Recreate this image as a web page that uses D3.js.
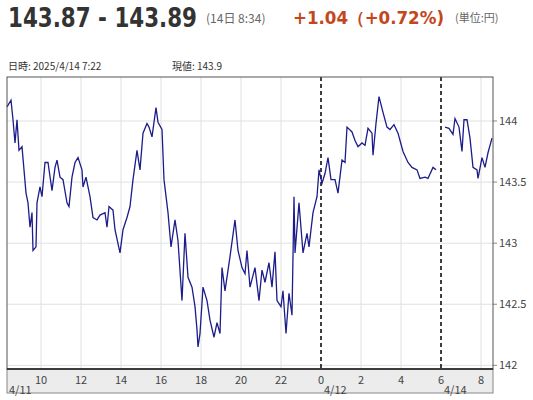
<!DOCTYPE html>
<html><head><meta charset="utf-8">
<script src="https://cdn.jsdelivr.net/npm/d3@7"></script>
<style>
body{margin:0;background:#fff;font-family:"Noto Sans CJK JP","Noto Sans",sans-serif;}
</style></head>
<body><svg id="c" width="533" height="400"></svg>
<script>
// 軸の時間 (4/11 0:00 からの時間, 4/14 は 6時 = 30 に詰める)
var hours = [8.30,8.50,8.60,8.70,8.80,8.90,9.05,9.15,9.25,9.35,9.45,9.55,9.60,9.75,9.80,9.95,10.05,10.20,10.35,10.55,10.70,10.80,10.95,11.10,11.30,11.40,11.55,11.70,11.85,12.05,12.10,12.25,12.45,12.60,12.80,12.95,13.20,13.30,13.40,13.60,13.70,13.95,14.10,14.30,14.45,14.60,14.80,14.95,15.10,15.30,15.40,15.55,15.75,15.85,16.05,16.15,16.35,16.50,16.70,16.85,17.05,17.20,17.35,17.55,17.70,17.80,17.85,17.95,18.10,18.30,18.45,18.65,18.80,18.95,19.05,19.20,19.45,19.70,19.85,20.05,20.20,20.30,20.45,20.70,20.90,21.05,21.20,21.40,21.55,21.70,21.80,22.00,22.10,22.25,22.40,22.55,22.65,22.70,22.90,23.10,23.30,23.40,23.60,23.80,23.90,24.05,24.20,24.35,24.50,24.70,24.85,25.05,25.20,25.30,25.55,25.70,25.85,26.05,26.20,26.35,26.55,26.60,26.75,26.90,27.10,27.30,27.45,27.65,27.85,27.95,28.10,28.35,28.55,28.80,28.95,29.20,29.35,29.60,29.75,29.9,
  30.20,30.40,30.60,30.70,30.90,31.05,31.15,31.30,31.45,31.60,31.80,31.85,32.05,32.20,32.35,32.55];
var prices = [144.115,144.17,144.01,143.82,144.01,143.76,143.79,143.60,143.41,143.33,143.13,143.25,142.94,142.97,143.33,143.46,143.38,143.66,143.66,143.43,143.62,143.68,143.54,143.52,143.33,143.30,143.54,143.66,143.70,143.60,143.46,143.54,143.38,143.21,143.19,143.23,143.25,143.13,143.30,143.27,143.11,142.92,143.11,143.21,143.30,143.52,143.76,143.60,143.90,143.98,143.95,143.87,144.11,143.99,143.93,143.52,143.25,142.97,143.19,143.02,142.53,143.08,142.72,142.64,142.48,142.29,142.15,142.26,142.64,142.53,142.37,142.23,142.35,142.26,142.80,142.61,142.89,143.19,142.94,142.80,142.75,142.94,142.64,142.80,142.53,142.78,142.68,142.84,142.64,142.93,142.53,142.48,142.61,142.26,142.59,142.41,143.38,142.92,143.33,142.92,143.08,142.97,143.25,143.38,143.60,143.49,143.57,143.70,143.52,143.52,143.41,143.68,143.66,143.95,143.91,143.84,143.79,143.82,143.80,143.94,143.90,143.72,143.98,144.20,144.07,143.95,143.93,143.97,143.90,143.84,143.75,143.66,143.62,143.60,143.53,143.54,143.53,143.62,143.60,null,
  143.95,143.94,143.89,144.02,143.95,143.75,144.01,144.01,143.86,143.62,143.60,143.53,143.70,143.62,143.74,143.86];
var tickHours = [10,12,14,16,18,20,22,24,26,28,30,32];
var tickLabels = ["10","12","14","16","18","20","22","0","2","4","6","8"];
var dateLabels = [[8.4,"4/11"],[24,"4/12"],[30,"4/14"]];
var breaks = [24,30];
var yTicks = [142,142.5,143,143.5,144];

var svg = d3.select("#c");
var L = 7, R = 493, T = 77, B = 369;
var x = d3.scaleLinear().domain([8.3,32.6]).range([L,R]);
var y = d3.scaleLinear().domain([141.97,144.36]).range([B,T]);

// ヘッダー
svg.append("text").attr("x",8).attr("y",27).attr("font-size",26).attr("font-weight","bold")
  .attr("fill","#333").attr("font-family","'DejaVu Sans',sans-serif")
  .attr("textLength",189).attr("lengthAdjust","spacingAndGlyphs").text("143.87 - 143.89");
svg.append("text").attr("x",206).attr("y",23).attr("font-size",12).attr("fill","#666").text("(14日 8:34)");
svg.append("text").attr("x",293).attr("y",24).attr("font-size",17).attr("font-weight","bold")
  .attr("fill","#c4461c").attr("font-family","'DejaVu Sans',sans-serif")
  .attr("textLength",151).attr("lengthAdjust","spacingAndGlyphs").text("+1.04（+0.72%)");
svg.append("text").attr("x",455).attr("y",22).attr("font-size",11).attr("fill","#666").text("(単位:円)");
svg.append("text").attr("x",8).attr("y",70).attr("font-size",10).attr("fill","#333").text("日時: 2025/4/14  7:22");
svg.append("text").attr("x",172).attr("y",70).attr("font-size",10).attr("fill","#333").text("現値: 143.9");

// グリッド
svg.selectAll(".vg").data(tickHours.filter(function(h){return breaks.indexOf(h)<0;})).enter().append("line")
  .attr("x1",function(d){return x(d);}).attr("x2",function(d){return x(d);})
  .attr("y1",T).attr("y2",B).attr("stroke","#e0e0e0");
svg.selectAll(".hg").data(yTicks).enter().append("line")
  .attr("x1",L).attr("x2",R).attr("y1",function(d){return y(d);}).attr("y2",function(d){return y(d);})
  .attr("stroke","#e0e0e0");

// 軸帯
svg.append("rect").attr("x",L).attr("y",B).attr("width",R-L).attr("height",24)
  .attr("fill","#ececec").attr("stroke","#888");
svg.selectAll(".tl").data(tickHours).enter().append("text")
  .attr("x",function(d){return x(d);}).attr("y",384).attr("text-anchor","middle")
  .attr("font-size",11).attr("fill","#444").text(function(d,i){return tickLabels[i];});
svg.selectAll(".dl").data(dateLabels).enter().append("text")
  .attr("x",function(d){return x(d[0])+(d[0]<10?0:3);}).attr("y",394).attr("font-size",11).attr("fill","#444")
  .text(function(d){return d[1];});

// 右軸
svg.selectAll(".yl").data(yTicks).enter().append("text")
  .attr("x",R+6).attr("y",function(d){return y(d)+4;}).attr("font-size",11).attr("fill","#444")
  .text(function(d){return d;});
svg.selectAll(".yt").data(yTicks).enter().append("line")
  .attr("x1",R).attr("x2",R+4).attr("y1",function(d){return y(d);}).attr("y2",function(d){return y(d);})
  .attr("stroke","#888");

// 日付の区切り
svg.selectAll(".br").data(breaks).enter().append("line")
  .attr("x1",function(d){return x(d);}).attr("x2",function(d){return x(d);})
  .attr("y1",T).attr("y2",B).attr("stroke","#000").attr("stroke-width",1.5).attr("stroke-dasharray","4,3");

// 価格ライン
var line = d3.line().defined(function(d){return d[1]!==null;})
  .x(function(d){return x(d[0]);}).y(function(d){return y(d[1]);});
svg.append("path").datum(hours.map(function(h,i){return [h,prices[i]];}))
  .attr("d",line).attr("fill","none").attr("stroke","#1c1c8a").attr("stroke-width",1.3);

// 枠
svg.append("rect").attr("x",L).attr("y",T).attr("width",R-L).attr("height",B-T)
  .attr("fill","none").attr("stroke","#555");
svg.append("line").attr("x1",L).attr("x2",R).attr("y1",B).attr("y2",B).attr("stroke","#222").attr("stroke-width",1.5);
</script></body></html>
